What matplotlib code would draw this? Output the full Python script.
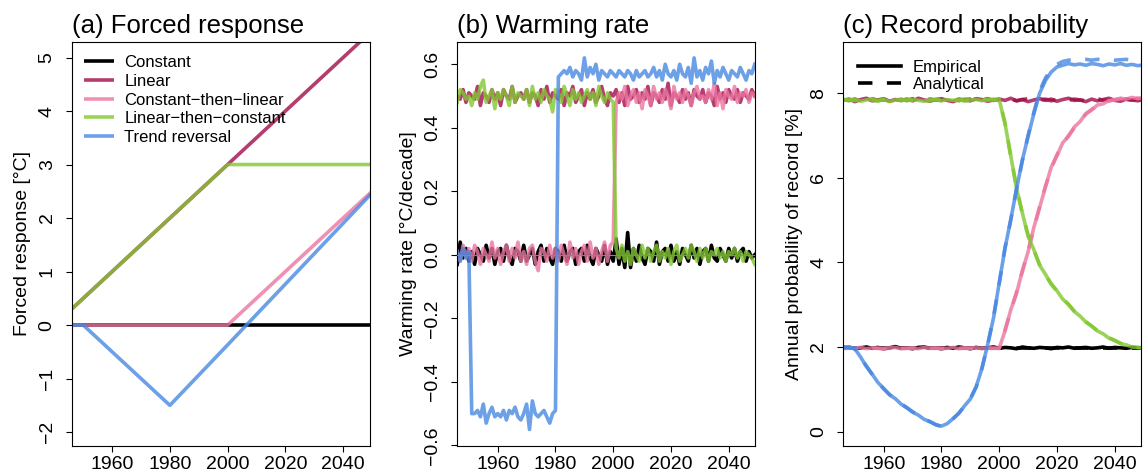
import numpy as np
import matplotlib
matplotlib.use('Agg')
import matplotlib.pyplot as plt
from matplotlib.lines import Line2D

plt.rcParams['font.family'] = ['Liberation Sans', 'DejaVu Sans']

# ---------------- data ----------------
scenario_names = ['Constant', 'Linear', 'Constant\u2212then\u2212linear',
                  'Linear\u2212then\u2212constant', 'Trend reversal']
scenario_colors = ['#000000', '#A10B4A', '#EC76A1', '#82C731', '#4788E2']

# panel (a): forced response at breakpoint years
years_a = [1940, 1950, 1980, 2000, 2050]
force_const = [0.0, 0.0, 0.0, 0.0, 0.0]
force_linear = [0.0, 0.5, 2.0, 3.0, 5.5]
force_ctl = [0.0, 0.0, 0.0, 0.0, 2.5]
force_ltc = [0.0, 0.5, 2.0, 3.0, 3.0]
force_tr = [0.0, 0.0, -1.5, -0.37, 2.47]

# panel (b): warming rate, yearly 1946-2049
years_b = np.arange(1946, 2050)
rate_const = [-0.03, 0.04, -0.01, 0.02, -0.02,
              0.01, -0.03, 0.02, 0.00, -0.02, 0.03, -0.01, 0.02, -0.03, 0.01,
              0.02, -0.02, 0.03, -0.01, -0.03, 0.02, 0.01, -0.02, 0.03, -0.02,
              0.00, 0.02, -0.03, 0.01, 0.03, -0.02, 0.02, -0.01, -0.03, 0.02,
              0.01, -0.02, 0.03, -0.02, 0.01, 0.02, -0.03, 0.01, 0.02, -0.02,
              0.03, -0.01, -0.03, 0.02, 0.00, -0.02, 0.03, -0.03, 0.01, -0.02,
              0.05, -0.03, 0.02, -0.04, 0.07, -0.04, 0.02, -0.02, 0.03, -0.01,
              -0.03, 0.02, 0.01, -0.02, 0.04, -0.03, 0.01, 0.02, -0.02, 0.03,
              -0.02, 0.01, -0.03, 0.02, 0.00, -0.02, 0.03, -0.01, 0.02, -0.03,
              0.01, 0.02, -0.02, 0.03, -0.01, -0.02, 0.02, 0.00, -0.02, 0.02,
              -0.01, 0.02, -0.02, 0.01, 0.02, -0.02, 0.01, -0.01, 0.00]
rate_linear = [0.50, 0.49, 0.52, 0.48, 0.51,
               0.50, 0.49, 0.53, 0.47, 0.51, 0.50, 0.48, 0.52, 0.49, 0.51,
               0.47, 0.52, 0.50, 0.49, 0.53, 0.48, 0.50, 0.51, 0.49, 0.52,
               0.48, 0.51, 0.50, 0.47, 0.52, 0.49, 0.53, 0.48, 0.51, 0.50,
               0.49, 0.52, 0.47, 0.51, 0.50, 0.53, 0.48, 0.50, 0.52, 0.47,
               0.51, 0.49, 0.52, 0.48, 0.50, 0.53, 0.49, 0.47, 0.51, 0.50,
               0.52, 0.48, 0.51, 0.47, 0.53, 0.49, 0.50, 0.52, 0.48, 0.51,
               0.49, 0.53, 0.47, 0.51, 0.50, 0.48, 0.52, 0.49, 0.54, 0.47,
               0.51, 0.50, 0.48, 0.52, 0.49, 0.51, 0.47, 0.52, 0.50, 0.49,
               0.52, 0.48, 0.51, 0.50, 0.47, 0.53, 0.49, 0.51, 0.48, 0.52,
               0.50, 0.49, 0.52, 0.48, 0.51, 0.50, 0.49, 0.52, 0.50]
rate_ctl = [0.01, -0.02, 0.03, -0.01, 0.02,
            -0.02, 0.03, 0.01, -0.03, 0.02, 0.00, -0.02, 0.04, -0.01, 0.02,
            -0.03, 0.01, 0.03, -0.02, 0.02, -0.01, 0.04, -0.02, 0.01, -0.03,
            0.02, 0.03, -0.02, -0.05, 0.02, 0.01, -0.02, 0.03, -0.01, 0.02,
            -0.02, 0.03, 0.00, -0.03, 0.04, -0.01, 0.02, -0.03, 0.01, 0.03,
            -0.02, 0.04, -0.01, 0.02, -0.03, 0.01, 0.04, -0.02, 0.03, 0.04,
            0.48, 0.51, 0.49, 0.53, 0.47, 0.50, 0.52, 0.48, 0.51, 0.46,
            0.52, 0.50, 0.47, 0.53, 0.49, 0.51, 0.48, 0.52, 0.50, 0.46,
            0.53, 0.49, 0.51, 0.48, 0.52, 0.50, 0.47, 0.51, 0.53, 0.49,
            0.50, 0.48, 0.52, 0.49, 0.54, 0.47, 0.51, 0.46, 0.52, 0.50,
            0.49, 0.53, 0.48, 0.51, 0.50, 0.52, 0.48, 0.51, 0.50]
rate_ltc = [0.48, 0.52, 0.51, 0.49, 0.50,
            0.47, 0.51, 0.49, 0.53, 0.55, 0.48, 0.50, 0.52, 0.46, 0.51,
            0.49, 0.52, 0.50, 0.47, 0.53, 0.48, 0.51, 0.50, 0.49, 0.52,
            0.47, 0.53, 0.49, 0.51, 0.48, 0.52, 0.50, 0.49, 0.45, 0.52,
            0.51, 0.48, 0.53, 0.50, 0.47, 0.52, 0.49, 0.51, 0.48, 0.50,
            0.52, 0.49, 0.51, 0.47, 0.53, 0.50, 0.48, 0.51, 0.49, 0.48,
            0.02, -0.01, 0.03, -0.02, 0.01, -0.03, 0.02, 0.00, -0.02, 0.03,
            -0.01, 0.02, -0.02, 0.01, 0.03, -0.02, 0.01, -0.01, 0.02, -0.03,
            0.01, 0.03, -0.02, 0.00, 0.02, -0.01, 0.03, 0.01, -0.02, 0.02,
            -0.01, 0.02, -0.02, 0.01, 0.00, 0.02, -0.01, 0.01, -0.02, 0.01,
            0.00, 0.02, -0.01, 0.01, -0.02, 0.01, 0.00, -0.01, -0.03]
rate_tr = [0.01, -0.02, 0.02, -0.01, 0.01,
           -0.50, -0.50, -0.49, -0.51, -0.47, -0.53, -0.50, -0.48, -0.51, -0.50,
           -0.51, -0.49, -0.52, -0.49, -0.50, -0.48, -0.51, -0.52, -0.50, -0.47,
           -0.55, -0.46, -0.50, -0.51, -0.50, -0.49, -0.51, -0.53, -0.50, -0.49,
           0.56, 0.57, 0.58, 0.57, 0.59, 0.56, 0.58, 0.57, 0.55, 0.62,
           0.56, 0.59, 0.57, 0.60, 0.55, 0.58, 0.57, 0.56, 0.58, 0.57,
           0.56, 0.58, 0.57, 0.56, 0.58, 0.57, 0.55, 0.58, 0.56, 0.57,
           0.58, 0.56, 0.57, 0.59, 0.56, 0.58, 0.55, 0.60, 0.57, 0.56,
           0.58, 0.55, 0.60, 0.57, 0.56, 0.59, 0.54, 0.62, 0.56, 0.58,
           0.55, 0.59, 0.57, 0.61, 0.54, 0.58, 0.56, 0.59, 0.57, 0.55,
           0.58, 0.57, 0.56, 0.59, 0.57, 0.55, 0.58, 0.57, 0.60]
rate_zero_ref = 0.0

# panel (c): annual record probability [%], every 2 years 1946-2050
years_c = np.arange(1946, 2051, 2)
prob_const_emp = [1.97, 1.99, 1.96, 1.98, 2.00, 1.97, 1.99, 1.96, 1.98, 2.01,
                  1.97, 1.98, 1.96, 1.99, 2.00, 1.97, 1.98, 1.96, 1.99, 1.97,
                  2.00, 1.98, 1.96, 1.99, 1.97, 1.98, 2.00, 1.97, 1.99, 1.98,
                  1.96, 2.00, 1.98, 1.97, 1.99, 1.98, 1.96, 1.99, 1.98, 2.00,
                  1.97, 1.98, 1.99, 1.97, 1.98, 2.00, 1.97, 1.99, 1.98, 1.97,
                  1.99, 1.98, 1.98]
prob_const_ana = [1.98, 1.98, 1.98, 1.98, 1.98, 1.98, 1.98, 1.98, 1.98, 1.98,
                  1.98, 1.98, 1.98, 1.98, 1.98, 1.98, 1.98, 1.98, 1.98, 1.98,
                  1.98, 1.98, 1.98, 1.98, 1.98, 1.98, 1.98, 1.98, 1.98, 1.98,
                  1.98, 1.98, 1.98, 1.98, 1.98, 1.98, 1.98, 1.98, 1.98, 1.98,
                  1.98, 1.98, 1.98, 1.98, 1.98, 1.98, 1.98, 1.98, 1.98, 1.98,
                  1.98, 1.98, 1.98]
prob_linear_emp = [7.83, 7.86, 7.80, 7.85, 7.88, 7.82, 7.84, 7.87, 7.81, 7.85,
                   7.83, 7.86, 7.82, 7.88, 7.84, 7.81, 7.85, 7.87, 7.83, 7.80,
                   7.86, 7.84, 7.82, 7.87, 7.85, 7.81, 7.84, 7.86, 7.83, 7.88,
                   7.82, 7.85, 7.80, 7.84, 7.87, 7.83, 7.86, 7.81, 7.85, 7.88,
                   7.83, 7.84, 7.80, 7.86, 7.82, 7.85, 7.88, 7.83, 7.81, 7.86,
                   7.84, 7.82, 7.85]
prob_linear_ana = [7.85, 7.83, 7.86, 7.82, 7.85, 7.87, 7.83, 7.84, 7.86, 7.82,
                   7.85, 7.83, 7.87, 7.84, 7.82, 7.86, 7.84, 7.83, 7.85, 7.87,
                   7.83, 7.85, 7.86, 7.82, 7.84, 7.87, 7.83, 7.85, 7.84, 7.86,
                   7.82, 7.85, 7.87, 7.83, 7.84, 7.86, 7.82, 7.85, 7.84, 7.83,
                   7.86, 7.84, 7.82, 7.85, 7.87, 7.83, 7.84, 7.86, 7.82, 7.85,
                   7.84, 7.86, 7.83]
prob_ctl_emp = [1.96, 1.98, 1.97, 1.99, 1.96, 1.98, 1.97, 1.95, 1.98, 1.99,
                1.96, 1.97, 1.98, 1.96, 1.99, 1.97, 1.98, 1.96, 1.97, 1.99,
                1.96, 1.98, 1.97, 1.99, 1.96, 1.98, 1.97, 1.97,
                2.38, 2.88, 3.27, 3.80, 4.25, 4.83, 5.30, 5.78, 6.25, 6.52,
                6.83, 6.98, 7.20, 7.33, 7.52, 7.60, 7.72, 7.75, 7.83, 7.84,
                7.88, 7.86, 7.90, 7.87, 7.89]
prob_ctl_ana = [1.97, 1.97, 1.97, 1.97, 1.97, 1.97, 1.97, 1.97, 1.97, 1.97,
                1.97, 1.97, 1.97, 1.97, 1.97, 1.97, 1.97, 1.97, 1.97, 1.97,
                1.97, 1.97, 1.97, 1.97, 1.97, 1.97, 1.97, 1.97,
                2.40, 2.85, 3.30, 3.78, 4.28, 4.80, 5.32, 5.80, 6.22, 6.55,
                6.80, 7.00, 7.18, 7.35, 7.50, 7.62, 7.70, 7.76, 7.81, 7.85,
                7.87, 7.88, 7.88, 7.88, 7.88]
prob_ltc_emp = [7.85, 7.82, 7.86, 7.81, 7.84, 7.87, 7.83, 7.85, 7.80, 7.84,
                7.86, 7.82, 7.85, 7.83, 7.81, 7.86, 7.84, 7.82, 7.85, 7.83,
                7.86, 7.81, 7.84, 7.85, 7.82, 7.86, 7.83, 7.85,
                7.28, 6.52, 5.75, 5.17, 4.62, 4.30, 3.93, 3.72, 3.48, 3.33,
                3.13, 3.01, 2.84, 2.73, 2.59, 2.50, 2.38, 2.31, 2.21, 2.16,
                2.08, 2.05, 2.00, 1.99, 1.98]
prob_ltc_ana = [7.83, 7.86, 7.82, 7.85, 7.88, 7.83, 7.81, 7.86, 7.84, 7.87,
                7.82, 7.85, 7.83, 7.88, 7.84, 7.81, 7.86, 7.83, 7.87, 7.84,
                7.82, 7.86, 7.83, 7.85, 7.87, 7.83, 7.86, 7.84,
                7.30, 6.50, 5.78, 5.15, 4.65, 4.28, 3.95, 3.70, 3.50, 3.32,
                3.15, 3.00, 2.85, 2.72, 2.60, 2.49, 2.39, 2.30, 2.22, 2.15,
                2.09, 2.04, 2.01, 1.99, 1.98]
prob_tr_emp = [2.00, 1.99, 1.96, 1.76, 1.54, 1.36, 1.16, 1.02, 0.87, 0.78,
               0.65, 0.57, 0.46, 0.39, 0.29, 0.24, 0.16, 0.13, 0.19, 0.31,
               0.43, 0.61, 0.77, 1.06, 1.49, 2.06, 2.68, 3.52, 4.33, 5.02,
               5.73, 6.42, 6.98, 7.52, 8.00, 8.30, 8.50, 8.62, 8.66, 8.70,
               8.67, 8.69, 8.66, 8.70, 8.68, 8.65, 8.69, 8.67, 8.70, 8.66,
               8.68, 8.65, 8.67]
prob_tr_ana = [2.00, 2.00, 1.97, 1.75, 1.55, 1.35, 1.17, 1.01, 0.88, 0.77,
               0.66, 0.56, 0.47, 0.38, 0.30, 0.23, 0.17, 0.12, 0.20, 0.30,
               0.44, 0.60, 0.78, 1.05, 1.50, 2.05, 2.70, 3.50, 4.35, 5.00,
               5.75, 6.40, 7.00, 7.55, 8.05, 8.36, 8.56, 8.68, 8.75, 8.78,
               8.80, 8.79, 8.80, 8.78, 8.80, 8.79, 8.80, 8.78, 8.79, 8.80,
               8.78, 8.77, 8.76]

x_ticks = [1960, 1980, 2000, 2020, 2040]

# ---------------- figure ----------------
W, H = 1146, 472
fig = plt.figure(figsize=(W / 100, H / 100), dpi=100)

ax_bottom = 1 - 446 / H
ax_height = 404 / H
lefts_px = [71.7, 457.3, 843.3]
width_px = 298.0
axes = [fig.add_axes([l / W, ax_bottom, width_px / W, ax_height]) for l in lefts_px]

LW = 2.6
ALPHA = 0.8
alphas = [1.0, ALPHA, ALPHA, ALPHA, ALPHA]
FS = 14


def style_axis(ax, yticks, yfmt, ylabel, title):
    ax.set_xlim(1946.0, 2049.2)
    ax.set_xticks(x_ticks)
    ax.set_xticklabels([str(t) for t in x_ticks])
    ax.set_yticks(yticks)
    ax.set_yticklabels([yfmt(v).replace('-', '\u2212') for v in yticks],
                       rotation=90, va='center')
    ax.tick_params(axis='both', direction='out', length=4, width=0.8,
                   labelsize=FS, colors='black')
    ax.tick_params(axis='x', pad=3.5)
    ax.tick_params(axis='y', pad=7.5)
    for s in ax.spines.values():
        s.set_linewidth(0.8)
    ax.set_ylabel(ylabel, fontsize=FS)
    ax.yaxis.label.set_va('center')
    ax.yaxis.set_label_coords(-49 / width_px, 0.5)
    ax.set_title(title, loc='left', fontsize=18.5, pad=6.5)


# panel a
ax = axes[0]
force_series = [force_const, force_linear, force_ctl, force_ltc, force_tr]
for vals, c, a, name in zip(force_series, scenario_colors, alphas, scenario_names):
    ax.plot(years_a, vals, color=c, alpha=a, lw=LW, label=name,
            solid_capstyle='butt')
ax.set_ylim(-2.26, 5.29)
style_axis(ax, [-2, -1, 0, 1, 2, 3, 4, 5], lambda v: f'{v:d}',
           'Forced response [\u00b0C]', '(a) Forced response')
ax.legend(loc='upper left', bbox_to_anchor=(0.04, 0.967), frameon=False,
          fontsize=12, handlelength=1.8, handletextpad=0.65,
          labelspacing=0.22, borderaxespad=0, borderpad=0)

# panel b
ax = axes[1]
rate_series = [rate_const, rate_linear, rate_ctl, rate_ltc, rate_tr]
for vals, c, a in zip(rate_series, scenario_colors, alphas):
    ax.plot(years_b, vals, color=c, alpha=a, lw=LW, solid_joinstyle='round')
ax.axhline(rate_zero_ref, color='#888888', lw=0.8, zorder=5)
ax.set_ylim(-0.602, 0.670)
style_axis(ax, [-0.6, -0.4, -0.2, 0.0, 0.2, 0.4, 0.6], lambda v: f'{v:.1f}',
           'Warming rate [\u00b0C/decade]', '(b) Warming rate')

# panel c
ax = axes[2]
emp_series = [prob_const_emp, prob_linear_emp, prob_ctl_emp, prob_ltc_emp, prob_tr_emp]
ana_series = [prob_const_ana, prob_linear_ana, prob_ctl_ana, prob_ltc_ana, prob_tr_ana]
for e, an, c, a in zip(emp_series, ana_series, scenario_colors, alphas):
    ax.plot(years_c, e, color=c, alpha=a, lw=LW)
    ax.plot(years_c, an, color=c, alpha=a, lw=LW, linestyle=(0, (4, 4)))
ax.set_ylim(-0.34, 9.21)
style_axis(ax, [0, 2, 4, 6, 8], lambda v: f'{v:d}',
           'Annual probability of record [%]', '(c) Record probability')
handles = [Line2D([], [], color='black', lw=LW),
           Line2D([], [], color='black', lw=LW, linestyle=(0, (4, 4)))]
ax.legend(handles, ['Empirical', 'Analytical'], loc='upper left',
          bbox_to_anchor=(0.048, 0.955), frameon=False, fontsize=12,
          handlelength=2.6, handletextpad=0.7, labelspacing=0.1,
          borderaxespad=0, borderpad=0)

fig.savefig('out.png', dpi=100)
